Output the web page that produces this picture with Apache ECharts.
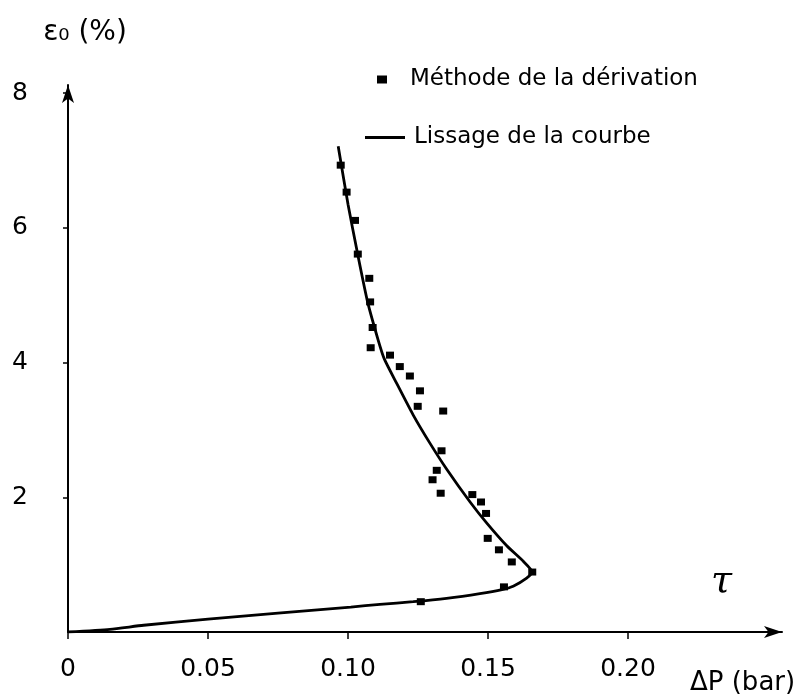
<!DOCTYPE html>
<html><head><meta charset="utf-8">
<script src="https://cdn.jsdelivr.net/npm/echarts@6/dist/echarts.min.js"></script>
<style>html,body{margin:0;padding:0;background:#fff}#c{width:800px;height:700px}</style>
</head><body><div id="c"></div>
<script>
const xTicks = [0, 0.05, 0.10, 0.15, 0.20];
const yTicks = [2, 4, 6, 8];
const derivationPoints = [
  [0.0974, 6.93], [0.0995, 6.53], [0.1025, 6.11], [0.1035, 5.61], [0.1076, 5.25],
  [0.1079, 4.90], [0.1088, 4.52], [0.1081, 4.22], [0.1150, 4.11], [0.1185, 3.94],
  [0.1221, 3.80], [0.1257, 3.58], [0.1249, 3.35], [0.1340, 3.28], [0.1334, 2.69],
  [0.1317, 2.40], [0.1302, 2.26], [0.1331, 2.06], [0.1444, 2.04], [0.1475, 1.93],
  [0.1493, 1.76], [0.1499, 1.39], [0.1539, 1.22], [0.1585, 1.04], [0.1658, 0.89],
  [0.1557, 0.67], [0.1260, 0.45]
];
const smoothCurve = [
  [0, 0], [0.015, 0.04], [0.027, 0.10], [0.05, 0.19], [0.075, 0.28], [0.101, 0.37],
  [0.1114, 0.41], [0.1233, 0.45], [0.1352, 0.50], [0.1471, 0.57], [0.155, 0.63],
  [0.159, 0.68], [0.1638, 0.80], [0.1658, 0.89], [0.1626, 1.05], [0.1567, 1.28],
  [0.1495, 1.62], [0.1436, 1.93], [0.1352, 2.42], [0.1293, 2.80], [0.1233, 3.22],
  [0.1174, 3.69], [0.1130, 4.05], [0.1108, 4.33], [0.107, 4.90], [0.1035, 5.60],
  [0.100, 6.35], [0.0965, 7.21]
];
const legendNames = ['Méthode de la dérivation', 'Lissage de la courbe'];

const chart = echarts.init(document.getElementById('c'), null, {renderer: 'canvas'});
const font = 'DejaVu Sans';
chart.setOption({
  backgroundColor: '#fff',
  animation: false,
  textStyle: {fontFamily: font, color: '#000'},
  grid: {left: 68, right: 18, top: 85, bottom: 68},
  legend: [
    {data: [{name: legendNames[0], icon: 'rect'}], left: 372, top: 63, itemWidth: 10, itemHeight: 8,
     textStyle: {fontFamily: font, fontSize: 23, color: '#000', padding: [0, 0, 0, 18]}},
    {data: [{name: legendNames[1], icon: 'path://M0,0H40V3H0Z'}], left: 360, top: 121, itemWidth: 40, itemHeight: 3,
     itemStyle: {color: '#000'},
     textStyle: {fontFamily: font, fontSize: 23, color: '#000', padding: [0, 0, 0, 4]}}
  ],
  xAxis: {
    type: 'value', min: 0, max: 0.255,
    name: 'ΔP (bar)', nameLocation: 'end', nameGap: -92,
    nameTextStyle: {fontFamily: font, fontSize: 26, color: '#000', verticalAlign: 'top', align: 'left', padding: [38, 0, 0, 0]},
    axisLine: {show: true, symbol: ['none', 'arrow'], symbolSize: [9, 18], lineStyle: {color: '#000', width: 2}},
    axisTick: {show: true, customValues: xTicks, length: 7, lineStyle: {color: '#000', width: 1.5}},
    axisLabel: {customValues: xTicks, margin: 25, fontSize: 25, color: '#000', fontFamily: font,
      formatter: v => v === 0 ? '0' : v.toFixed(2)},
    splitLine: {show: false}
  },
  yAxis: {
    type: 'value', min: 0, max: 8.12,
    name: 'ε₀ (%)', nameLocation: 'end', nameGap: 38,
    nameTextStyle: {fontFamily: font, fontSize: 28, color: '#000', align: 'center', padding: [0, 0, 0, 34]},
    axisLine: {show: true, symbol: ['none', 'arrow'], symbolSize: [9, 18], lineStyle: {color: '#000', width: 2}},
    axisTick: {show: true, customValues: yTicks, length: 5, lineStyle: {color: '#000', width: 1.5}},
    axisLabel: {customValues: yTicks, margin: 40, fontSize: 25, color: '#000', fontFamily: font},
    splitLine: {show: false}
  },
  graphic: [
    {type: 'text', left: 711, top: 563, style: {text: 'τ', font: 'italic 38px "DejaVu Serif"', fill: '#000'}}
  ],
  series: [
    {name: legendNames[0], type: 'scatter', data: derivationPoints, symbol: 'rect', symbolSize: [8, 7],
     itemStyle: {color: '#000', opacity: 1}},
    {name: legendNames[1], type: 'line', data: smoothCurve, symbol: 'none', showSymbol: false, smooth: 0.2,
     lineStyle: {color: '#000', width: 2.8}, itemStyle: {color: '#000'}}
  ]
});
</script></body></html>
